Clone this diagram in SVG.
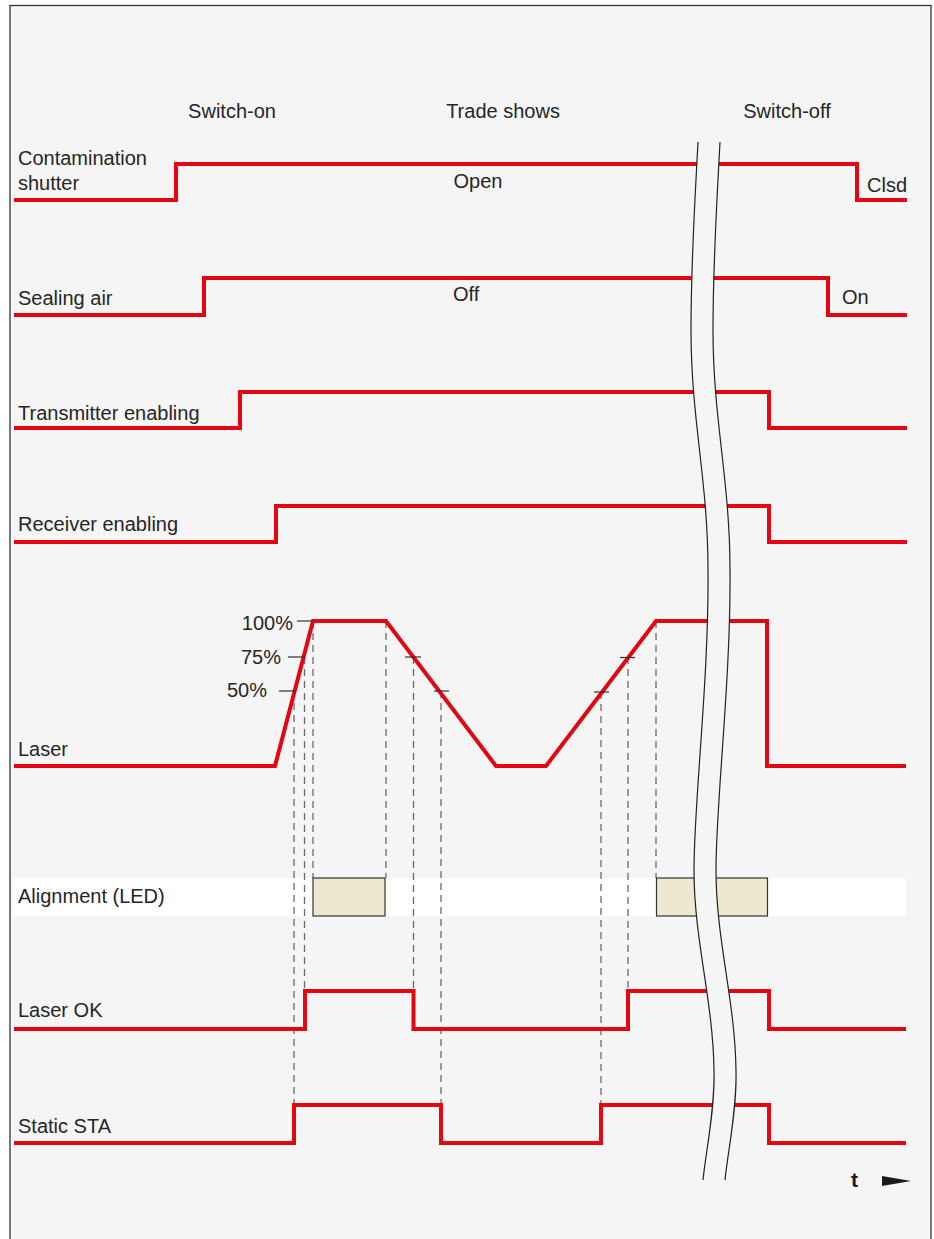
<svg xmlns="http://www.w3.org/2000/svg" width="934" height="1239" viewBox="0 0 934 1239">
<style>
.lbl{font-family:"Liberation Sans",Arial,sans-serif;font-size:20px;fill:#262626}
.sig{fill:none;stroke:#e30613;stroke-width:4;stroke-linejoin:miter;stroke-linecap:butt}
.dash{fill:none;stroke:#6a6a6a;stroke-width:1.3;stroke-dasharray:7 5}
.tick{stroke:#333;stroke-width:1.2}
.led{fill:#ede8cf;stroke:#333;stroke-width:1.2}
.brk{fill:none;stroke:#222;stroke-width:1.2}
</style>
<rect x="0" y="0" width="934" height="1239" fill="#ffffff"/>
<rect id="frame" x="10" y="5.5" width="921" height="1250" fill="#f5f5f5" stroke="#333" stroke-width="1.3"/>

<g id="headers">
<text class="lbl" x="232" y="118" text-anchor="middle">Switch-on</text>
<text class="lbl" x="503" y="118" text-anchor="middle">Trade shows</text>
<text class="lbl" x="787" y="118" text-anchor="middle">Switch-off</text>
</g>

<g id="alignment-band">
<rect x="12" y="878" width="894" height="38" fill="#ffffff"/>
</g>

<g id="connectors">
<line class="dash" x1="294" y1="691" x2="294" y2="1105"/>
<line class="dash" x1="304.5" y1="657" x2="304.5" y2="991"/>
<line class="dash" x1="313" y1="621" x2="313" y2="878"/>
<line class="dash" x1="386" y1="621" x2="386" y2="878"/>
<line class="dash" x1="413.5" y1="657" x2="413.5" y2="991"/>
<line class="dash" x1="441" y1="691" x2="441" y2="1105"/>
<line class="dash" x1="601" y1="692" x2="601" y2="1105"/>
<line class="dash" x1="628" y1="657" x2="628" y2="991"/>
<line class="dash" x1="656" y1="621" x2="656" y2="878"/>
</g>

<g id="contamination-shutter">
<text class="lbl" x="18" y="165">Contamination</text>
<text class="lbl" x="18" y="190">shutter</text>
<path class="sig" d="M14,200 H176 V164 H857 V200 H907"/>
<text class="lbl" x="478" y="188" text-anchor="middle">Open</text>
<text class="lbl" x="867" y="192">Clsd</text>
</g>

<g id="sealing-air">
<text class="lbl" x="18" y="305">Sealing air</text>
<path class="sig" d="M14,315 H204 V278 H828 V315 H907"/>
<text class="lbl" x="453" y="301">Off</text>
<text class="lbl" x="842" y="304">On</text>
</g>

<g id="transmitter-enabling">
<text class="lbl" x="18" y="420">Transmitter enabling</text>
<path class="sig" d="M14,428 H240 V392 H769 V428 H907"/>
</g>

<g id="receiver-enabling">
<text class="lbl" x="18" y="531">Receiver enabling</text>
<path class="sig" d="M14,542 H276 V506 H769 V542 H907"/>
</g>

<g id="laser">
<text class="lbl" x="18" y="756">Laser</text>
<path class="sig" d="M14,766 H275 L313,621 H386 L496,766 H546 L656,621 H767 V766 H906"/>
<text class="lbl" x="293" y="630" text-anchor="end">100%</text>
<text class="lbl" x="281" y="664" text-anchor="end">75%</text>
<text class="lbl" x="267" y="697" text-anchor="end">50%</text>
<line class="tick" x1="297" y1="621" x2="313" y2="621"/>
<line class="tick" x1="288" y1="657" x2="305" y2="657"/>
<line class="tick" x1="279" y1="691" x2="296" y2="691"/>
<line class="tick" x1="405" y1="657" x2="421" y2="657"/>
<line class="tick" x1="434" y1="691" x2="449" y2="691"/>
<line class="tick" x1="620" y1="657.5" x2="635" y2="657.5"/>
<line class="tick" x1="594" y1="692" x2="609" y2="692"/>
</g>

<g id="alignment-led">
<text class="lbl" x="18" y="903">Alignment (LED)</text>
<rect class="led" x="313" y="878" width="72" height="38"/>
<rect class="led" x="656.5" y="878" width="111" height="38"/>
</g>

<g id="laser-ok">
<text class="lbl" x="18" y="1017">Laser OK</text>
<path class="sig" d="M14,1029 H305 V991 H413.5 V1029 H628 V991 H769 V1029 H906"/>
</g>

<g id="static-sta">
<text class="lbl" x="18" y="1133">Static STA</text>
<path class="sig" d="M14,1143 H294 V1105 H441 V1143 H601 V1105 H769 V1143 H906"/>
</g>

<g id="time-break">
<path fill="#f5f5f5" stroke="none" d="M698,142 C695,200 691,260 691,330 C691,420 708,480 708,570 C709,680 694,800 694,870 C694,940 713,1000 714,1070 C715,1110 706,1150 703,1180 L725,1180 C728,1150 737,1110 736,1070 C735,1000 716,940 716,870 C716,800 731,680 730,570 C730,480 713,420 713,330 C713,260 717,200 720,142 Z"/>
<path class="brk" d="M698,142 C695,200 691,260 691,330 C691,420 708,480 708,570 C709,680 694,800 694,870 C694,940 713,1000 714,1070 C715,1110 706,1150 703,1180"/>
<path class="brk" d="M720,142 C717,200 713,260 713,330 C713,420 730,480 730,570 C731,680 716,800 716,870 C716,940 735,1000 736,1070 C737,1110 728,1150 725,1180"/>
</g>

<g id="time-axis">
<text x="851" y="1187" font-family="Liberation Sans,Arial,sans-serif" font-size="21" font-weight="bold" fill="#1a1a1a">t</text>
<polygon points="882,1176 911,1181 882,1186" fill="#1a1a1a"/>
</g>
</svg>
